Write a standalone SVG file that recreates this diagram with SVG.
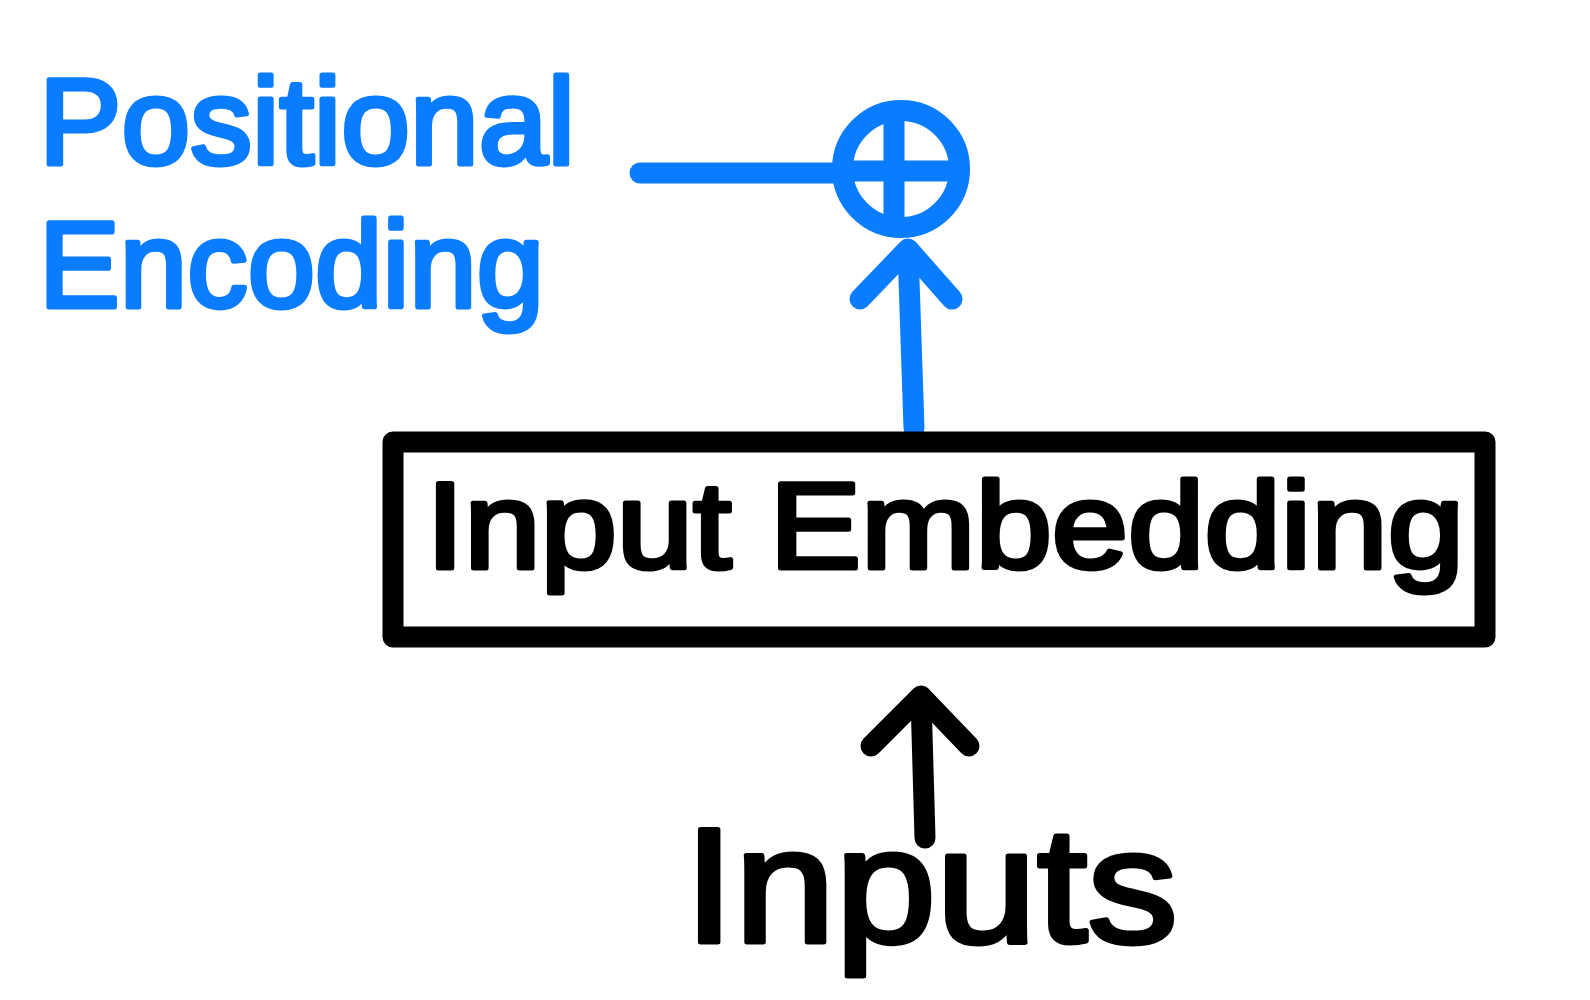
<svg xmlns="http://www.w3.org/2000/svg" width="1590" height="1000" viewBox="0 0 1590 1000">
  <defs>
    <style>
      .blue-stroke { fill: none; stroke: #0A7CFF; stroke-width: 21; stroke-linecap: round; stroke-linejoin: round; }
      .black-stroke { fill: none; stroke: #000000; stroke-width: 21; stroke-linecap: round; stroke-linejoin: round; }
      .label { font-family: "Liberation Sans", Arial, sans-serif; font-weight: normal; stroke-width: 5; stroke-linejoin: round; stroke-linecap: round; }
      .label-blue { fill: #0A7CFF; stroke: #0A7CFF; }
      .label-black { fill: #000000; stroke: #000000; }
    </style>
  </defs>
  <rect x="0" y="0" width="1590" height="1000" fill="#FFFFFF"/>

  <g id="connectors">
    <line id="pe-to-add" class="blue-stroke" x1="640" y1="173" x2="842" y2="173"/>
    <g id="embedding-to-add">
      <line class="blue-stroke" x1="914" y1="428" x2="908" y2="250"/>
      <polyline class="blue-stroke" points="860,299 908,249 952,299"/>
    </g>
    <g id="inputs-to-embedding">
      <line class="black-stroke" x1="925" y1="838" x2="921" y2="698"/>
      <polyline class="black-stroke" points="871,746 921,696 969,746"/>
    </g>
  </g>

  <g id="positional-encoding">
    <text class="label label-blue" x="39" y="164" font-size="123" textLength="536" lengthAdjust="spacingAndGlyphs">Positional</text>
    <text class="label label-blue" x="39" y="307" font-size="123" textLength="505" lengthAdjust="spacingAndGlyphs">Encoding</text>
  </g>

  <g id="add">
    <circle class="blue-stroke" cx="901" cy="169" r="58.5"/>
    <line class="blue-stroke" stroke-linecap="butt" x1="894" y1="114" x2="894" y2="224"/>
    <line class="blue-stroke" stroke-linecap="butt" x1="846" y1="171" x2="956" y2="171"/>
  </g>

  <g id="input-embedding">
    <rect class="black-stroke" x="393" y="442" width="1092" height="195"/>
    <text class="label label-black" x="426" y="568" font-size="123" textLength="1038" lengthAdjust="spacingAndGlyphs">Input Embedding</text>
  </g>

  <g id="inputs">
    <text class="label label-black" x="684" y="942" font-size="163" stroke-width="6" textLength="494" lengthAdjust="spacingAndGlyphs">Inputs</text>
  </g>
</svg>
